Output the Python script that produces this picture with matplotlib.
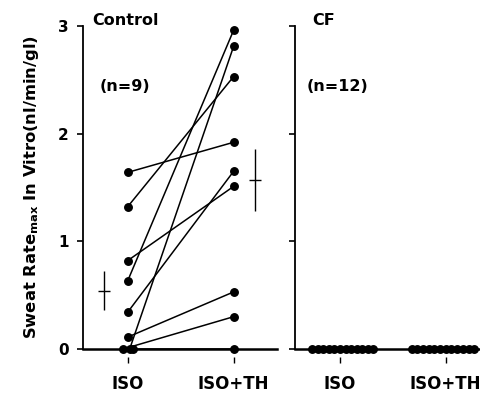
import numpy as np
import matplotlib
matplotlib.use('Agg')
import matplotlib.pyplot as plt

# --- data ---
conditions = ['ISO', 'ISO+TH']
control_iso = [1.64, 1.32, 0.82, 0.63, 0.34, 0.11, 0.0, 0.0, 0.0]
control_th = [1.92, 2.53, 1.51, 2.96, 1.65, 0.53, 2.81, 0.30, 0.0]
control_iso_jitter = [0, 0, 0, 0, 0, 0, 0.02, -0.04, 0.05]
control_mean = [0.54, 1.57]
control_sem = [0.18, 0.29]
cf_iso = [0.0] * 12
cf_th = [0.0] * 12
y_ticks = [0, 1, 2, 3]

plt.rcParams['font.family'] = 'DejaVu Sans'
plt.rcParams['font.weight'] = 'bold'
plt.rcParams['mathtext.fontset'] = 'custom'
plt.rcParams['mathtext.rm'] = 'DejaVu Sans:bold'
plt.rcParams['mathtext.default'] = 'rm'

fig = plt.figure(figsize=(4.81, 3.94), dpi=100)
ax1 = fig.add_axes([0.1726, 0.1142, 0.4034, 0.8198])
ax2 = fig.add_axes([0.6133, 0.1142, 0.4034, 0.8198])

for ax in (ax1, ax2):
    ax.set_xlim(-0.42, 1.41)
    ax.set_ylim(0, 3)
    for s in ('top', 'right'):
        ax.spines[s].set_visible(False)
    ax.spines['left'].set_linewidth(1.3)
    ax.spines['bottom'].set_linewidth(1.8)
    ax.set_yticks(y_ticks)
    ax.set_xticks([0, 1])
    ax.set_xticklabels(conditions, fontsize=12, fontweight='bold')
    ax.tick_params(axis='x', length=0, pad=19)
    ax.tick_params(axis='y', direction='out', length=4.5, width=1.2, pad=6, labelsize=11)
    # small tick marks below the baseline
    ax.plot([0, 1], [-0.1, -0.1], ls='none', marker='|', ms=4, mew=1, color='black', clip_on=False)

# Control panel
for iso, th, jit in zip(control_iso, control_th, control_iso_jitter):
    ax1.plot([0 + jit, 1], [iso, th], color='black', lw=1.1, marker='o', ms=5.4,
             clip_on=False, zorder=3)
ax1.errorbar([-0.22, 1.2], control_mean, yerr=control_sem, fmt='none', ecolor='black',
             elinewidth=1, capsize=0, clip_on=False)
ax1.plot([-0.22, 1.2], control_mean, ls='none', marker='_', ms=9, mew=1, color='black')
ax1.set_ylabel(r'Sweat Rate$_{max}$ In Vitro(nl/min/gl)', fontsize=11.8, fontweight='bold', labelpad=12)
ax1.text(-0.33, 3.01, 'Control', fontsize=11.5, fontweight='bold', va='baseline', ha='left')
ax1.text(-0.26, 2.44, '(n=9)', fontsize=11.5, fontweight='bold', va='center', ha='left')

# CF panel
ax2.set_yticklabels([])
ax2.plot(np.linspace(-0.26, 0.32, len(cf_iso)), cf_iso, ls='none', marker='o', ms=5.4,
         color='black', clip_on=False, zorder=3)
ax2.plot(np.linspace(1 - 0.32, 1 + 0.27, len(cf_th)), cf_th, ls='none', marker='o', ms=5.4,
         color='black', clip_on=False, zorder=3)
ax2.text(-0.26, 3.01, 'CF', fontsize=11.5, fontweight='bold', va='baseline', ha='left')
ax2.text(-0.31, 2.44, '(n=12)', fontsize=11.5, fontweight='bold', va='center', ha='left')

fig.savefig('out.png', dpi=100)
